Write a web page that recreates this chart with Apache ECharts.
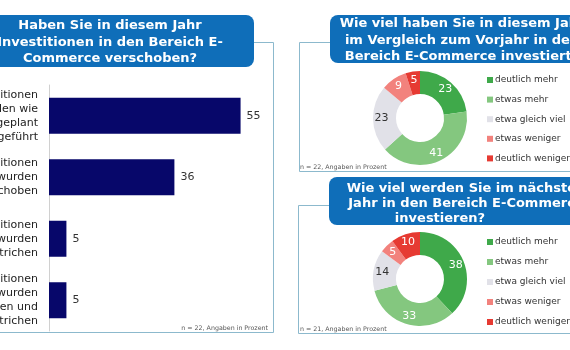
<!DOCTYPE html>
<html>
<head>
<meta charset="utf-8">
<script src="https://cdn.jsdelivr.net/npm/echarts@6/dist/echarts.min.js"></script>
<style>
	html, body { margin: 0; padding: 0; background: #fff; }
	#chart { width: 570px; height: 350px; }
</style>
</head>
<body>
<div id="chart"></div>
<script>
// Balken: Investitionen verschoben?
var barCats = ['Investitionen\nwurden wie\ngeplant\ndurchgeführt', 'Investitionen\nwurden\nverschoben', 'Investitionen\nwurden\ngestrichen', 'Investitionen\nwurden\nverschoben und\ngestrichen'];
var barVals = [55, 36, 5, 5];

// Ringe: dieses Jahr / nächstes Jahr
var pieNames = ['deutlich mehr', 'etwas mehr', 'etwa gleich viel', 'etwas weniger', 'deutlich weniger'];
var pieVals1 = [23, 41, 23, 9, 5];
var pieVals2 = [38, 33, 14, 5, 10];

var pieColors = ['#3fa94a', '#84c77f', '#e1e1e8', '#f2827d', '#e63a32'];
var pieLabelColors = ['#fff', '#fff', '#333', '#fff', '#fff'];

var FONT = 'Verdana, "DejaVu Sans", sans-serif';
var BLUE = '#0f6eb9';
var LINE = '#8cb9cd';

function pieData(vals) {
	return vals.map(function(v, i) {
		return {
			name : pieNames[i],
			value : v,
			itemStyle : { color : pieColors[i] },
			label : { color : pieLabelColors[i] }
		};
	});
}

function pieSeries(vals, cy) {
	return {
		type : 'pie',
		center : [420, cy],
		radius : [24, 47],
		startAngle : 90,
		silent : true,
		label : {
			show : true,
			position : 'inside',
			fontFamily : FONT,
			fontSize : 11,
			formatter : '{c}'
		},
		labelLine : { show : false },
		data : pieData(vals)
	};
}

function legendAt(top, gap) {
	return {
		orient : 'vertical',
		left : 487,
		top : top,
		padding : 0,
		itemWidth : 6,
		itemHeight : 6,
		itemGap : gap,
		icon : 'rect',
		selectedMode : false,
		textStyle : { fontFamily : FONT, fontSize : 9, color : '#333', lineHeight : 10, padding : [0, 0, 0, -3] },
		data : pieNames
	};
}

function line(pts) {
	return {
		type : 'polyline',
		shape : { points : pts },
		style : { stroke : LINE, lineWidth : 1, fill : null }
	};
}

function box(x, y, w, h) {
	return {
		type : 'rect',
		shape : { x : x, y : y, width : w, height : h, r : 8 },
		style : { fill : BLUE }
	};
}

function title(x, y, txt, lh) {
	return {
		type : 'text',
		x : x,
		y : y,
		style : {
			text : txt,
			fill : '#fff',
			font : 'bold 13px ' + FONT,
			lineHeight : lh,
			align : 'center',
			verticalAlign : 'middle'
		}
	};
}

function note(x, y, txt, align) {
	return {
		type : 'text',
		x : x,
		y : y,
		style : {
			text : txt,
			fill : '#555',
			font : '6.3px ' + FONT,
			align : align,
			verticalAlign : 'middle'
		}
	};
}

var chart = echarts.init(document.getElementById('chart'));

var option = {
	animation : false,
	backgroundColor : '#fff',
	graphic : [
		// Rahmen
		line([[254, 42.5], [273.5, 42.5], [273.5, 332.5], [-5, 332.5]]),
		line([[330, 42.5], [299.5, 42.5], [299.5, 171.5], [575, 171.5]]),
		line([[329, 205.5], [298.5, 205.5], [298.5, 333.5], [575, 333.5]]),
		// Titelkästen
		box(-40, 15, 294, 52),
		box(330, 15, 270, 48),
		box(329, 177, 271, 48),
		title(110, 42.5, 'Haben Sie in diesem Jahr\nInvestitionen in den Bereich E-\nCommerce verschoben?', 16.5),
		title(462, 40.5, 'Wie viel haben Sie in diesem Jahr\nim Vergleich zum Vorjahr in den\nBereich E-Commerce investiert?', 16.5),
		title(466, 196, 'Wie viel werden Sie im nächsten\nJahr in den Bereich E-Commerce', 15.5),
		title(440, 219, 'investieren?', 15.5),
		note(268, 328, 'n = 22, Angaben in Prozent', 'right'),
		note(300, 167, 'n = 22, Angaben in Prozent', 'left'),
		note(300, 329.5, 'n = 21, Angaben in Prozent', 'left')
	],
	legend : [legendAt(75, 9.6), legendAt(237, 10)],
	grid : {
		left : 49,
		top : 85,
		width : 209,
		height : 246,
		outerBoundsMode : 'none'
	},
	xAxis : {
		type : 'value',
		min : 0,
		max : 60,
		show : false
	},
	yAxis : {
		type : 'category',
		inverse : true,
		data : barCats,
		axisLine : { show : true, lineStyle : { color : '#d0d0d0' } },
		axisTick : { show : false },
		axisLabel : {
			margin : 11,
			fontFamily : FONT,
			fontSize : 11,
			lineHeight : 14,
			color : '#222',
			align : 'right'
		}
	},
	series : [{
		type : 'bar',
		data : barVals,
		barWidth : 36,
		silent : true,
		itemStyle : { color : '#07076a' },
		label : {
			show : true,
			position : 'right',
			distance : 6,
			fontFamily : FONT,
			fontSize : 11,
			color : '#333'
		}
	},
	pieSeries(pieVals1, 118),
	pieSeries(pieVals2, 279)]
};

chart.setOption(option);
</script>
</body>
</html>
